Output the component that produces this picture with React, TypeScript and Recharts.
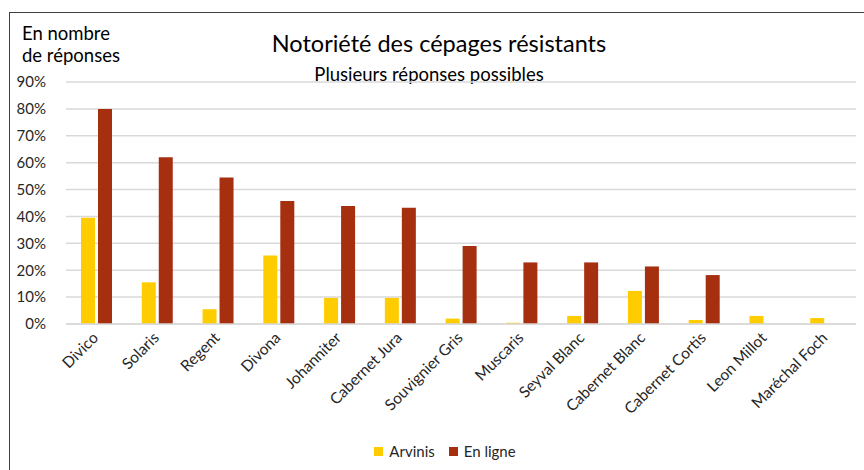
import { BarChart, Bar, XAxis, YAxis, CartesianGrid, Legend } from "recharts";

const cepages = [
  "Divico",
  "Solaris",
  "Regent",
  "Divona",
  "Johanniter",
  "Cabernet Jura",
  "Souvignier Gris",
  "Muscaris",
  "Seyval Blanc",
  "Cabernet Blanc",
  "Cabernet Cortis",
  "Leon Millot",
  "Maréchal Foch",
];
const arvinis = [0.395, 0.155, 0.055, 0.255, 0.097, 0.097, 0.02, 0.005, 0.03, 0.123, 0.015, 0.03, 0.022];
const enLigne = [0.8, 0.62, 0.545, 0.457, 0.439, 0.432, 0.29, 0.229, 0.229, 0.214, 0.182, 0, 0];
const yTicks = [0, 0.1, 0.2, 0.3, 0.4, 0.5, 0.6, 0.7, 0.8, 0.9];

const data = cepages.map((name, i) => ({
  name,
  arvinis: arvinis[i],
  enLigne: enLigne[i],
}));

const FONT = "Lato, 'Open Sans', sans-serif";
const YELLOW = "#FFCC00";
const RED = "#A62F10";

function RotatedTick(props: any) {
  const { x, y, payload } = props;
  return (
    <g transform={`translate(${x},${y + 4})`}>
      <text
        x={0}
        y={0}
        dy={4}
        textAnchor="end"
        transform="rotate(-45)"
        fontSize={15.5}
        fill="#262626"
        fontFamily={FONT}
      >
        {payload.value}
      </text>
    </g>
  );
}

function LegendContent() {
  const items = [
    { label: "Arvinis", color: YELLOW },
    { label: "En ligne", color: RED },
  ];
  return (
    <div style={{ display: "flex", justifyContent: "center", gap: 14, paddingLeft: 26, fontFamily: FONT, fontSize: 15, color: "#262626" }}>
      {items.map((it) => (
        <div key={it.label} style={{ display: "flex", alignItems: "center" }}>
          <span style={{ width: 9, height: 9, background: it.color, marginRight: 6, display: "inline-block" }} />
          {it.label}
        </div>
      ))}
    </div>
  );
}

export default function App() {
  return (
    <div style={{ position: "absolute", left: 0, top: 0, width: 864, height: 470, background: "white", fontFamily: FONT }}>
      <div style={{ position: "absolute", left: 9, top: 12, width: 855, height: 458, borderTop: "1px solid #404040", borderLeft: "1px solid #404040" }} />
      <div style={{ position: "absolute", left: 22, top: 22, fontSize: 18.5, lineHeight: "22px", color: "#000" }}>
        En nombre
        <br />
        de réponses
      </div>
      <div style={{ position: "absolute", left: 0, width: 878, top: 29, textAlign: "center", fontSize: 23.5, color: "#000" }}>
        Notoriété des cépages résistants
      </div>
      <div style={{ position: "absolute", left: 0, width: 858, top: 63, textAlign: "center", fontSize: 18.5, color: "#000" }}>
        Plusieurs réponses possibles
      </div>
      <div style={{ position: "absolute", left: 0, top: 0 }}>
        <BarChart
          width={864}
          height={470}
          data={data}
          margin={{ top: 82, right: 8, bottom: 0, left: 8 }}
          barSize={14}
          barGap={3}
        >
          <CartesianGrid vertical={false} stroke="#d9d9d9" strokeWidth={1.5} />
          <XAxis
            dataKey="name"
            interval={0}
            tickLine={false}
            axisLine={{ stroke: "#d9d9d9", strokeWidth: 1.5 }}
            tick={<RotatedTick />}
            height={128}
          />
          <YAxis
            width={58}
            domain={[0, 0.9]}
            ticks={yTicks}
            axisLine={false}
            tickLine={false}
            tickFormatter={(v) => `${Math.round(Number(v) * 100)}%`}
            tick={{ fontSize: 15, fill: "#262626", fontFamily: FONT, dx: -12 }}
          />
          <Legend
            verticalAlign="bottom"
            wrapperStyle={{ bottom: 10 }}
            content={<LegendContent />}
          />
          <Bar dataKey="arvinis" name="Arvinis" fill={YELLOW} isAnimationActive={false} />
          <Bar dataKey="enLigne" name="En ligne" fill={RED} isAnimationActive={false} />
        </BarChart>
      </div>
    </div>
  );
}
